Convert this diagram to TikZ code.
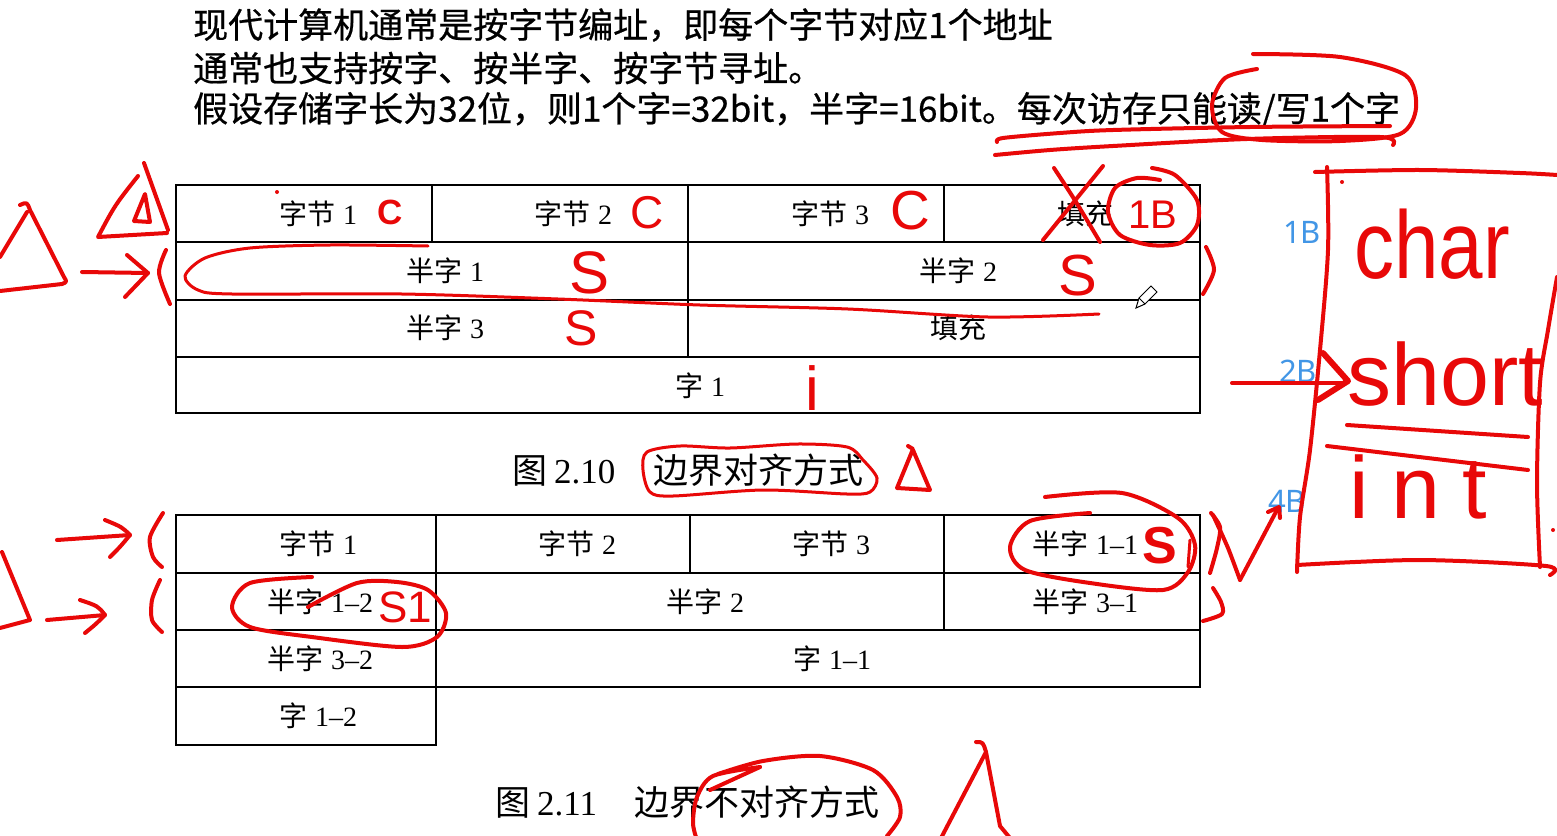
\documentclass[tikz,border=0pt]{standalone}
\usepackage{fontspec}
\setmainfont{Liberation Serif}
\newfontfamily\cjk{Noto Sans CJK SC}
\newfontfamily\cjkm[FakeBold=0.6]{Noto Sans CJK SC}
\newfontfamily\hand{Liberation Sans}
\newfontfamily\bluef{Noto Sans}
\usetikzlibrary{arrows.meta}
\definecolor{penred}{RGB}{232,8,8}
\definecolor{tagblue}{RGB}{66,150,230}
\newcommand\zh[1]{{\cjk #1}}
\begin{document}
\begin{tikzpicture}[x=1pt,y=-1pt,
  pen/.style={draw=penred,line width=4pt,line cap=round,line join=round},
  cell/.style={draw=black,line width=2.2pt},
  lab/.style={inner sep=0pt,font=\fontsize{28}{32}\selectfont},
  captxt/.style={inner sep=0pt,anchor=west,font=\fontsize{35}{40}\selectfont},
  topline/.style={inner sep=0pt,anchor=west,font=\cjkm\fontsize{35}{42}\selectfont},
  tag/.style={inner sep=0pt,text=tagblue,font=\bluef\fontsize{31}{34}\selectfont},
  hw/.style={inner sep=0pt,text=penred,font=\hand\fontsize{#1}{#1}\selectfont},
  hwb/.style={inner sep=0pt,text=penred,font=\hand\bfseries\fontsize{#1}{#1}\selectfont},
]
\useasboundingbox[fill=white] (0,0) rectangle (1557,835);

% ---------- top text ----------
\node[topline] (l1) at (193,25) {现代计算机通常是按字节编址，即每个字节对应1个地址};
\node[topline] (l2) at (193,68) {通常也支持按字、按半字、按字节寻址。};
\node[topline] (l3) at (193,110) {假设存储字长为32位，则1个字=32bit，半字=16bit。每次访存只能读/写1个字};

% ---------- table 2.10 ----------
\draw[cell] (176,185) rectangle (1200,413);
\draw[cell] (176,242) -- (1200,242);
\draw[cell] (176,300) -- (1200,300);
\draw[cell] (176,357) -- (1200,357);
\draw[cell] (432,185) -- (432,242);
\draw[cell] (688,185) -- (688,357);
\draw[cell] (944,185) -- (944,242);

\node[lab] (a11) at (318,214) {\zh{字节}\hspace{8pt}1};
\node[lab] (a12) at (573,214) {\zh{字节}\hspace{8pt}2};
\node[lab] (a13) at (830,214) {\zh{字节}\hspace{8pt}3};
\node[lab] (a14) at (1085,214) {\zh{填充}};
\node[lab] (a21) at (445,271) {\zh{半字}\hspace{8pt}1};
\node[lab] (a22) at (958,271) {\zh{半字}\hspace{8pt}2};
\node[lab] (a31) at (445,328) {\zh{半字}\hspace{8pt}3};
\node[lab] (a32) at (958,328) {\zh{填充}};
\node[lab] (a41) at (700,386) {\zh{字}\hspace{8pt}1};

\node[captxt] (c1) at (512,470) {\zh{图}\hspace{7pt}2.10\hspace{38pt}\zh{边界对齐方式}};

% ---------- table 2.11 ----------
\draw[cell] (176,515) rectangle (1200,687);
\draw[cell] (176,573) -- (1200,573);
\draw[cell] (176,630) -- (1200,630);
\draw[cell] (176,687) rectangle (436,745);
\draw[cell] (436,515) -- (436,687);
\draw[cell] (690,515) -- (690,573);
\draw[cell] (944,515) -- (944,630);

\node[lab] (b11) at (318,544) {\zh{字节}\hspace{8pt}1};
\node[lab] (b12) at (577,544) {\zh{字节}\hspace{8pt}2};
\node[lab] (b13) at (831,544) {\zh{字节}\hspace{8pt}3};
\node[lab] (b14) at (1085,544) {\zh{半字}\hspace{8pt}1–1};
\node[lab] (b21) at (320,602) {\zh{半字}\hspace{8pt}1–2};
\node[lab] (b22) at (705,602) {\zh{半字}\hspace{8pt}2};
\node[lab] (b23) at (1085,602) {\zh{半字}\hspace{8pt}3–1};
\node[lab] (b31) at (320,659) {\zh{半字}\hspace{8pt}3–2};
\node[lab] (b32) at (832,659) {\zh{字}\hspace{8pt}1–1};
\node[lab] (b41) at (318,716) {\zh{字}\hspace{8pt}1–2};

\node[captxt] (c2) at (495,802) {\zh{图}\hspace{7pt}2.11\hspace{37pt}\zh{边界不对齐方式}};

% ---------- blue tags ----------
\node[tag] (t1) at (1302,232) {1B};
\node[tag] (t2) at (1298,371) {2B};
\node[tag] (t4) at (1287,501) {4B};

% ---------- red annotations: top ----------
\draw[pen] plot[smooth] coordinates {(997,142) (1003,138) (1060,133) (1113,130) (1250,127) (1390,126)};
\draw[pen] plot[smooth] coordinates {(995,155) (1050,150) (1113,146) (1247,139) (1380,137) (1393,145)};
\draw[pen] plot[smooth] coordinates {(1257,69) (1225,78) (1212,105) (1222,132) (1262,140) (1340,141) (1400,134) (1416,108) (1405,75) (1340,57) (1253,54)};

% X and circled 1B
\draw[pen] (1103,166) -- (1043,240);
\draw[pen] (1054,168) .. controls (1075,200) .. (1100,242);
\draw[pen] plot[smooth] coordinates {(1152,168) (1175,175) (1197,200) (1197,225) (1180,243) (1150,245) (1120,235) (1108,212) (1115,188) (1137,178) (1160,180)};
\node[hw=40] (r1b) at (1153,215) {1B};

% C marks
\fill[penred] (277,192) circle (2);
\node[hwb=35] (rc1) at (390,212) {C};
\node[hw=46] (rc2) at (647,213) {C};
\node[hw=55] (rc3) at (910,211) {C};

% S and i marks
\node[hw=60] (rs1) at (590,273) {S};
\node[hw=50] (rs3) at (581,328) {S};
\node[hw=58] (rs2) at (1078,276) {S};
\node[hw=62] (ri) at (812,388) {i};

% loop round row 2 of fig 2.10
\draw[pen,line width=3pt] plot[smooth] coordinates {(428,246) (330,245) (250,248) (205,258) (185,276) (198,290) (232,294) (402,294) (558,299) (700,305) (848,309) (988,317) (1099,314)};
\draw[pen] plot[smooth] coordinates {(1206,247) (1214,270) (1203,294)};

% pencil cursor
\draw[line width=1pt,fill=white] (1136,308) -- (1139,298) -- (1151,286) -- (1157,292) -- (1145,304) -- cycle;
\draw[line width=1pt] (1139,298) -- (1145,304);

% left triangles and arrow
\draw[pen] (0,257) -- (27,212);
\draw[pen] (20,205) .. controls (27,202) .. (30,210) -- (64,277) .. controls (67,282) .. (62,284) -- (0,291);
\draw[pen] (138,176) .. controls (115,205) .. (98,237) -- (167,233);
\draw[pen] (144,163) -- (168,230);
\draw[pen] (145,194) -- (134,221) -- (150,222) -- cycle;
\draw[pen] (82,272) -- (148,273);
\draw[pen] (127,255) -- (148,273) -- (125,297);
\draw[pen] plot[smooth] coordinates {(166,250) (159,273) (170,304)};

% right box
\draw[pen] plot[smooth] coordinates {(1315,172) (1420,170) (1520,173) (1557,175)};
\draw[pen] plot[smooth] coordinates {(1327,167) (1328,250) (1320,350) (1310,450) (1300,517) (1297,572)};
\draw[pen] plot[smooth] coordinates {(1297,565) (1420,560) (1546,566) (1550,575)};
\draw[pen] plot[smooth] coordinates {(1557,277) (1548,330) (1540,383) (1537,483) (1540,567)};
\fill[penred] (1342,182) circle (2);
\fill[penred] (1553,530) circle (2);
\node[hw=80,anchor=base] (wchar) at (1432,278) {\scalebox{1}[1.2]{char}};
\node[hw=88,anchor=base] (wshort) at (1445,405) {short};
\node[hw=88,anchor=base] (wint) at (1418,518) {\addfontfeature{LetterSpace=25}int};
\draw[pen] (1232,383) -- (1343,383);
\draw[pen,line width=6pt] (1323,353) -- (1348,381) -- (1318,400);
\draw[pen] (1347,425) -- (1528,437);
\draw[pen] (1327,446) -- (1528,470);

% V stroke to 4B
\draw[pen] plot[smooth,tension=0.4] coordinates {(1213,515) (1228,548) (1240,580)};
\draw[pen] (1240,580) -- (1278,508);
\draw[pen] (1268,512) -- (1279,507) -- (1280,518);

% fig 2.11 annotations
\draw[pen] plot[smooth] coordinates {(1211,513) (1220,527) (1217,548) (1210,573)};
\draw[pen] plot[smooth] coordinates {(1213,588) (1221,602) (1222,614) (1203,621)};
\draw[pen] plot[smooth] coordinates {(1090,513) (1030,521) (1010,547) (1025,570) (1090,583) (1163,590) (1188,572) (1195,545) (1178,518) (1122,493) (1045,497)};
\draw[pen,line width=3pt] (1190,540) -- (1188,567);
\node[hwb=52] (rs11) at (1160,546) {S};

\draw[pen] plot[smooth] coordinates {(312,577) (250,583) (232,607) (250,627) (312,637) (402,647) (437,637) (446,613) (428,590) (397,582) (357,583) (308,607)};
\node[hw=44] (rs12) at (405,607) {S1};

\draw[pen] (57,540) -- (130,535);
\draw[pen] (105,520) .. controls (122,527) .. (130,535) .. controls (120,547) .. (110,557);
\draw[pen] plot[smooth] coordinates {(163,513) (150,537) (153,557) (162,567)};
\draw[pen] (47,620) -- (105,615);
\draw[pen] (80,600) .. controls (98,606) .. (105,615) .. controls (96,624) .. (85,633);
\draw[pen] plot[smooth] coordinates {(160,580) (152,600) (152,620) (162,632)};
\draw[pen] (2,552) -- (30,620) -- (0,628);

% caption loops and triangles
\draw[pen,line width=3pt] plot[smooth cycle] coordinates {(647,452) (643,470) (650,492) (673,496) (763,490) (847,494) (870,492) (877,478) (863,460) (847,447) (797,444) (730,448) (680,446)};
\draw[pen] (908,446) -- (913,449) -- (897,488) -- (930,490) -- (913,450);
\draw[pen] plot[smooth] coordinates {(760,767) (713,776) (697,797) (693,823) (697,840)};
\draw[pen] (760,767) -- (710,790);
\draw[pen] plot[smooth] coordinates {(718,774) (763,761) (820,756) (873,770) (897,797) (900,817) (887,836)};
\draw[pen] (976,742) .. controls (983,742) .. (986,752) -- (940,840);
\draw[pen] (986,752) -- (1000,826) -- (1010,838);
\end{tikzpicture}
\end{document}
